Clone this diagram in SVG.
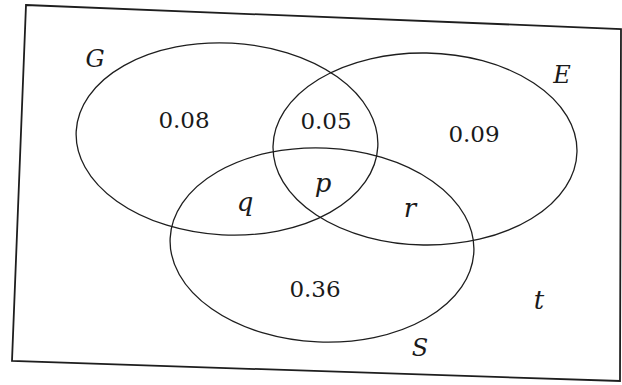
<svg xmlns="http://www.w3.org/2000/svg" width="622" height="385" viewBox="0 0 622 385">
<style>
.set{fill:none;stroke:#1e1e1e;stroke-width:1.3}
.frame{fill:none;stroke:#1e1e1e;stroke-width:1.8}
.t{font-family:'DejaVu Serif',serif;fill:#1a1a1a;text-anchor:middle}
.num{font-size:23px}
.up{font-size:24px;font-style:italic}
.lo{font-size:26px;font-style:italic}
</style>
<rect width="622" height="385" fill="#ffffff"/>
<g id="universe">
<polygon class="frame" points="26,5 621,29 620,381 12,361"/>
<text class="t lo" x="539" y="309">t</text>
</g>
<g id="set-G">
<ellipse class="set" cx="227" cy="139" rx="151" ry="96" transform="rotate(3 227 139)"/>
<text class="t up" x="95" y="67">G</text>
</g>
<g id="set-E">
<ellipse class="set" cx="425" cy="149" rx="152" ry="96" transform="rotate(1 425 149)"/>
<text class="t up" x="562" y="83">E</text>
</g>
<g id="set-S">
<ellipse class="set" cx="322" cy="245" rx="152" ry="97" transform="rotate(2.5 322 245)"/>
<text class="t up" x="420" y="356">S</text>
</g>
<g id="regions">
<text class="t num" x="184" y="128">0.08</text>
<text class="t num" x="326" y="129">0.05</text>
<text class="t num" x="474" y="142">0.09</text>
<text class="t num" x="315" y="297">0.36</text>
<text class="t lo" x="323" y="192">p</text>
<text class="t lo" x="245" y="211">q</text>
<text class="t lo" x="410" y="217">r</text>
</g>
</svg>
